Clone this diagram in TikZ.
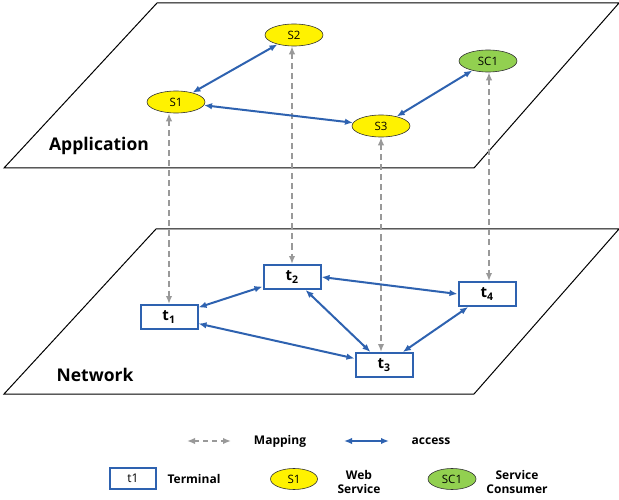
\documentclass[tikz,border=0pt]{standalone}
\usepackage{fontspec}
\setmainfont{Open Sans}
\usetikzlibrary{arrows.meta,shapes.geometric}
\definecolor{linkblue}{HTML}{2E62B0}
\definecolor{mapgray}{HTML}{999999}
\definecolor{consgreen}{HTML}{92D050}

\begin{document}
\begin{tikzpicture}[x=1pt,y=-1pt,
	plane/.style={draw=black,line width=1pt},
	service/.style={ellipse,draw=black!80,line width=0.6pt,fill=yellow,minimum width=58pt,minimum height=22pt,inner sep=0pt,font=\fontsize{11.5}{13}\selectfont},
	consumer/.style={service,fill=consgreen},
	terminal/.style={rectangle,draw=linkblue,line width=2pt,fill=white,minimum width=57pt,minimum height=24pt,inner sep=0pt,font=\fontsize{15}{17}\selectfont\bfseries},
	access/.style={draw=linkblue,line width=2pt,{Latex[length=8pt,width=6.5pt]}-{Latex[length=8pt,width=6.5pt]}},
	mapping/.style={draw=mapgray,line width=1.8pt,dash pattern=on 6pt off 4pt,{Latex[length=8pt,width=6.5pt]}-{Latex[length=8pt,width=6.5pt]}},
	layer/.style={font=\fontsize{17.5}{20}\selectfont\bfseries},
	legend/.style={font=\fontsize{12}{13.5}\selectfont\bfseries,align=center}]
	\useasboundingbox (0,0) rectangle (619,500);

	% the two planes
	\draw[plane] (157,3) -- (619,3) -- (474,168) -- (4,168) -- cycle;
	\draw[plane] (156,229) -- (619,229) -- (474,394) -- (4,394) -- cycle;
	\node[layer] (app) at (99,146) {Application};
	\node[layer] (net) at (95,375) {Network};

	% application layer
	\node[service] (S1) at (176,102) {S1};
	\node[service] (S2) at (294,35) {S2};
	\node[service] (S3) at (381,126) {S3};
	\node[consumer] (SC1) at (488,61) {SC1};

	% network layer
	\node[terminal] (t1) at (169,317) {t\textsubscript{1}};
	\node[terminal] (t2) at (292,277) {t\textsubscript{2}};
	\node[terminal] (t3) at (384,365) {t\textsubscript{3}};
	\node[terminal] (t4) at (487,294) {t\textsubscript{4}};

	% mapping
	\draw[mapping] (t1.north |- S1.south) -- (t1.north);
	\draw[mapping] (t2.north |- S2.south) -- (t2.north);
	\draw[mapping] (S3.south) -- (S3.south |- t3.north);
	\draw[mapping] (t4.north |- SC1.south) ++(2,0) coordinate (m4) -- (m4 |- t4.north);

	% access
	\draw[access] (S1) -- (S2);
	\draw[access] (S1) -- (S3);
	\draw[access] (S3) -- (SC1);
	\draw[access] (t1) -- (t2);
	\draw[access] (t1) -- (t3);
	\draw[access] (t2) -- (t3);
	\draw[access] (t2.east) -- (t4.west);
	\draw[access] (t3) -- (t4);

	% legend
	\coordinate (lm1) at (187,441);
	\coordinate (lm2) at (231,441);
	\draw[mapping,dash pattern=on 5pt off 4pt] (lm1) -- (lm2);
	\node[legend] (lmt) at (280,441) {Mapping};
	\coordinate (la1) at (344,441);
	\coordinate (la2) at (389,441);
	\draw[access] (la1) -- (la2);
	\node[legend] (lat) at (431,441) {access};
	\node[terminal,minimum width=46pt,minimum height=21pt,font=\fontsize{12}{13}\selectfont] (lt) at (133,478) {t1};
	\node[legend] (ltt) at (194,479) {Terminal};
	\node[service,minimum width=47pt,minimum height=21pt] (ls) at (294,479) {S1};
	\node[legend] (lst) at (359,482) {Web\\Service};
	\node[consumer,minimum width=48pt,minimum height=21pt] (lc) at (452,479) {SC1};
	\node[legend] (lct) at (517,482) {Service\\Consumer};
\end{tikzpicture}
\end{document}
